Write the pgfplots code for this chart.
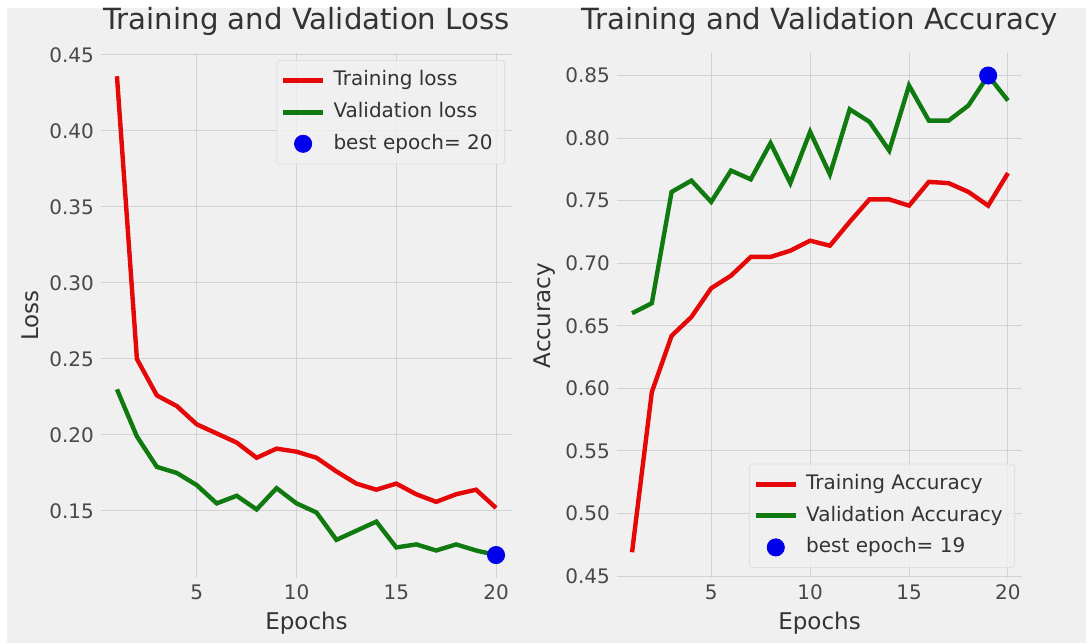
\documentclass[border=0pt]{standalone}
\usepackage{fontspec}
\setmainfont{DejaVu Sans}
\usepackage{pgfplots}
\pgfplotsset{compat=1.18}
\definecolor{bgc}{HTML}{F0F0F0}
\definecolor{gridc}{HTML}{D2D2D2}
\definecolor{txt}{HTML}{333333}
\definecolor{tick}{HTML}{484848}
\definecolor{lred}{RGB}{228,8,8}
\definecolor{lgreen}{RGB}{16,122,16}
\definecolor{lblue}{RGB}{0,0,235}
\pgfplotsset{
  mystyle/.style={
    scale only axis,
    axis line style={draw=none},
    tick style={draw=none},
    grid=major,
    grid style={color=gridc, line width=0.5pt},
    xtick={5,10,15,20},
    ticklabel style={font=\fontsize{10}{12}\selectfont, text=tick},
    /pgf/number format/assume math mode=true,
    yticklabel style={/pgf/number format/fixed, /pgf/number format/fixed zerofill, /pgf/number format/precision=2},
    title style={font=\fontsize{14.6}{16}\selectfont, text=txt, at={(axis description cs:0.5,1)}, anchor=base, yshift=5.5pt},
    xlabel style={font=\fontsize{11.5}{13}\selectfont, text=txt},
    ylabel style={font=\fontsize{11.5}{13}\selectfont, text=txt},
    legend cell align=left,
    legend style={font=\fontsize{10}{12}\selectfont, text=txt, fill=bgc, fill opacity=0.8, text opacity=1, draw=black!12, rounded corners=1.5pt, inner xsep=2pt, inner ysep=3pt, row sep=1.6pt,
      nodes={inner xsep=4pt, inner ysep=2.2pt, text height=7.6pt, text depth=2.2pt}},
  },
  lineleg/.style={legend image code/.code={\draw[##1, line width=2.4pt, draw opacity=1] (0pt,0pt) -- (20pt,0pt);}},
  dotleg/.style={legend image code/.code={\fill[lblue, fill opacity=1] (10pt,0pt) circle (4.3pt);}},
}
\begin{document}
\begin{tikzpicture}
\fill[white] (0,0) rectangle (543pt,321.5pt);
\fill[bgc] (3.5pt,0) rectangle (543pt,317.5pt);
\begin{axis}[mystyle,
  at={(50.5pt,32.5pt)}, anchor=south west,
  width=205.5pt, height=262.5pt,
  xmin=0.2, xmax=20.8, ymin=0.1059, ymax=0.4513,
  ytick={0.15,0.20,0.25,0.30,0.35,0.40,0.45},
  title={Training and Validation Loss},
  xlabel={Epochs}, ylabel={Loss},
  xlabel style={at={(axis description cs:0.5,-0.086)}, anchor=center},
  ylabel style={at={(axis description cs:-0.173,0.5)}, anchor=center, rotate=0},
  legend style={at={(axis description cs:1,1)}, anchor=north east, xshift=-3.5pt, yshift=-3.5pt},
]
\addplot[lred, line width=2.2pt, lineleg] coordinates {
(1,0.436) (2,0.250) (3,0.226) (4,0.219) (5,0.207) (6,0.201) (7,0.195) (8,0.185) (9,0.191) (10,0.189)
(11,0.185) (12,0.176) (13,0.168) (14,0.164) (15,0.168) (16,0.161) (17,0.156) (18,0.161) (19,0.164) (20,0.152)};
\addlegendentry{Training loss}
\addplot[lgreen, line width=2.2pt, lineleg] coordinates {
(1,0.230) (2,0.199) (3,0.179) (4,0.175) (5,0.167) (6,0.155) (7,0.160) (8,0.151) (9,0.165) (10,0.155)
(11,0.149) (12,0.131) (13,0.137) (14,0.143) (15,0.126) (16,0.128) (17,0.124) (18,0.128) (19,0.124) (20,0.121)};
\addlegendentry{Validation loss}
\addplot[only marks, mark=*, mark size=4.3pt, color=lblue, dotleg] coordinates {(20,0.121)};
\addlegendentry{best epoch= 20}
\end{axis}
\begin{axis}[mystyle,
  at={(308.5pt,32.5pt)}, anchor=south west,
  width=202.5pt, height=262.5pt,
  xmin=0.24, xmax=20.71, ymin=0.4484, ymax=0.868,
  ytick={0.45,0.50,0.55,0.60,0.65,0.70,0.75,0.80,0.85},
  title={Training and Validation Accuracy},
  xlabel={Epochs}, ylabel={Accuracy},
  xlabel style={at={(axis description cs:0.5,-0.086)}, anchor=center},
  ylabel style={at={(axis description cs:-0.18,0.5)}, anchor=center, rotate=0},
  legend style={at={(axis description cs:1,0)}, anchor=south east, xshift=-3.5pt, yshift=5pt},
]
\addplot[lred, line width=2.2pt, lineleg] coordinates {
(1,0.469) (2,0.597) (3,0.642) (4,0.657) (5,0.680) (6,0.690) (7,0.705) (8,0.705) (9,0.710) (10,0.718)
(11,0.714) (12,0.733) (13,0.751) (14,0.751) (15,0.746) (16,0.765) (17,0.764) (18,0.757) (19,0.746) (20,0.772)};
\addlegendentry{Training Accuracy}
\addplot[lgreen, line width=2.2pt, lineleg] coordinates {
(1,0.660) (2,0.668) (3,0.757) (4,0.766) (5,0.749) (6,0.774) (7,0.767) (8,0.796) (9,0.764) (10,0.805)
(11,0.771) (12,0.823) (13,0.813) (14,0.790) (15,0.842) (16,0.814) (17,0.814) (18,0.826) (19,0.850) (20,0.830)};
\addlegendentry{Validation Accuracy}
\addplot[only marks, mark=*, mark size=4.3pt, color=lblue, dotleg] coordinates {(19,0.850)};
\addlegendentry{best epoch= 19}
\end{axis}
\end{tikzpicture}
\end{document}
